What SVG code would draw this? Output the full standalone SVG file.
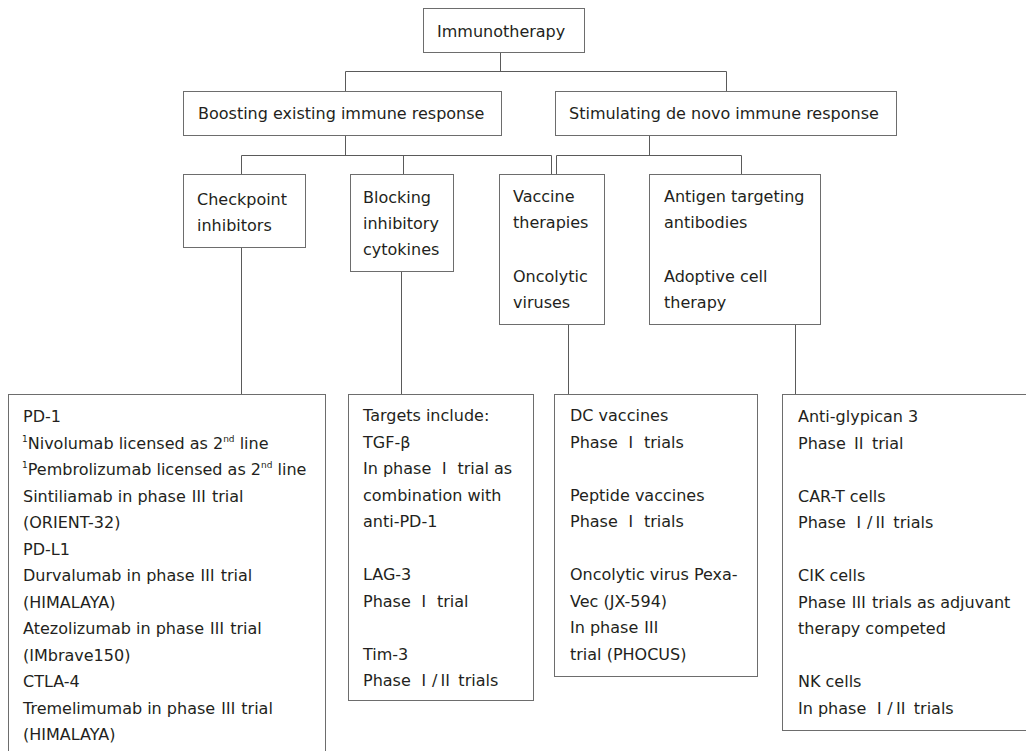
<svg xmlns="http://www.w3.org/2000/svg" width="1026" height="751" viewBox="0 0 1026 751">
<style>
  .box { fill: #ffffff; stroke: #6d6d6d; stroke-width: 1; }
  .con { fill: none; stroke: #5a5a5a; stroke-width: 1; }
  text { font-family: "DejaVu Sans", Verdana, sans-serif; font-size: 16px; fill: #231f20; }
  .r { font-family: "Noto Sans CJK JP", "DejaVu Sans", sans-serif; }
  .sup { font-size: 9px; }
</style>
<rect width="1026" height="751" fill="#ffffff"/>
<g id="connectors">
  <path class="con" d="M500.5 52.5 V71.5 M345.5 91.5 V71.5 H726.5 V91.5"/>
  <path class="con" d="M345.5 135.5 V155.5 M241.5 174.5 V155.5 H551.5 V174.5 M403.5 155.5 V174.5"/>
  <path class="con" d="M649.5 135.5 V155.5 M556.5 174.5 V155.5 H741.5 V174.5"/>
  <path class="con" d="M241.5 247.5 V394.5 M401.5 271.5 V394.5 M568.5 324.5 V394.5 M795.5 324.5 V394.5"/>
</g>
<g id="immunotherapy">
  <rect class="box" x="423.5" y="8.5" width="161" height="44"/>
  <text x="437" y="37">Immunotherapy</text>
</g>
<g id="boosting">
  <rect class="box" x="183.5" y="91.5" width="318" height="44"/>
  <text x="198" y="119">Boosting existing immune response</text>
</g>
<g id="stimulating">
  <rect class="box" x="555.5" y="91.5" width="341" height="44"/>
  <text x="569" y="119">Stimulating de novo immune response</text>
</g>
<g id="checkpoint">
  <rect class="box" x="183.5" y="174.5" width="122" height="73"/>
  <text x="197" y="205">Checkpoint</text>
  <text x="197" y="231">inhibitors</text>
</g>
<g id="blocking">
  <rect class="box" x="350.5" y="174.5" width="103" height="97"/>
  <text x="363" y="203">Blocking</text>
  <text x="363" y="229">inhibitory</text>
  <text x="363" y="255">cytokines</text>
</g>
<g id="vaccine">
  <rect class="box" x="499.5" y="174.5" width="105" height="150"/>
  <text x="513" y="202">Vaccine</text>
  <text x="513" y="228">therapies</text>
  <text x="513" y="282">Oncolytic</text>
  <text x="513" y="308">viruses</text>
</g>
<g id="antigen">
  <rect class="box" x="649.5" y="174.5" width="171" height="150"/>
  <text x="664" y="202">Antigen targeting</text>
  <text x="664" y="228">antibodies</text>
  <text x="664" y="282">Adoptive cell</text>
  <text x="664" y="308">therapy</text>
</g>
<g id="checkpoint-details">
  <rect class="box" x="8.5" y="394.5" width="317" height="380"/>
  <text x="23" y="422">PD-1</text>
  <text x="22" y="448.5"><tspan class="sup" dy="-7">1</tspan><tspan dy="7">Nivolumab licensed as 2</tspan><tspan class="sup" dy="-7">nd</tspan><tspan dy="7"> line</tspan></text>
  <text x="22" y="475"><tspan class="sup" dy="-7">1</tspan><tspan dy="7">Pembrolizumab licensed as 2</tspan><tspan class="sup" dy="-7">nd</tspan><tspan dy="7"> line</tspan></text>
  <text x="23" y="501.5">Sintiliamab in phase <tspan class="r">Ⅲ</tspan> trial</text>
  <text x="23" y="528">(ORIENT-32)</text>
  <text x="23" y="554.5">PD-L1</text>
  <text x="23" y="581">Durvalumab in phase <tspan class="r">Ⅲ</tspan> trial</text>
  <text x="23" y="607.5">(HIMALAYA)</text>
  <text x="23" y="634">Atezolizumab in phase <tspan class="r">Ⅲ</tspan> trial</text>
  <text x="23" y="660.5">(IMbrave150)</text>
  <text x="23" y="687">CTLA-4</text>
  <text x="23" y="713.5">Tremelimumab in phase <tspan class="r">Ⅲ</tspan> trial</text>
  <text x="23" y="740">(HIMALAYA)</text>
</g>
<g id="cytokine-details">
  <rect class="box" x="348.5" y="394.5" width="185" height="306"/>
  <text x="363" y="421">Targets include:</text>
  <text x="363" y="447.5">TGF-β</text>
  <text x="363" y="474">In phase <tspan class="r">Ⅰ</tspan> trial as</text>
  <text x="363" y="500.5">combination with</text>
  <text x="363" y="527">anti-PD-1</text>
  <text x="363" y="580">LAG-3</text>
  <text x="363" y="606.5">Phase <tspan class="r">Ⅰ</tspan> trial</text>
  <text x="363" y="659.5">Tim-3</text>
  <text x="363" y="686">Phase <tspan class="r">Ⅰ</tspan>/<tspan class="r">Ⅱ</tspan> trials</text>
</g>
<g id="vaccine-details">
  <rect class="box" x="554.5" y="394.5" width="203" height="282"/>
  <text x="570" y="421">DC vaccines</text>
  <text x="570" y="447.5">Phase <tspan class="r">Ⅰ</tspan> trials</text>
  <text x="570" y="500.5">Peptide vaccines</text>
  <text x="570" y="527">Phase <tspan class="r">Ⅰ</tspan> trials</text>
  <text x="570" y="580">Oncolytic virus Pexa-</text>
  <text x="570" y="606.5">Vec (JX-594)</text>
  <text x="570" y="633">In phase <tspan class="r">Ⅲ</tspan></text>
  <text x="570" y="659.5">trial (PHOCUS)</text>
</g>
<g id="antigen-details">
  <rect class="box" x="782.5" y="394.5" width="260" height="336"/>
  <text x="798" y="422">Anti-glypican 3</text>
  <text x="798" y="448.5">Phase <tspan class="r">Ⅱ</tspan> trial</text>
  <text x="798" y="501.5">CAR-T cells</text>
  <text x="798" y="528">Phase <tspan class="r">Ⅰ</tspan>/<tspan class="r">Ⅱ</tspan> trials</text>
  <text x="798" y="581">CIK cells</text>
  <text x="798" y="607.5">Phase <tspan class="r">Ⅲ</tspan> trials as adjuvant</text>
  <text x="798" y="634">therapy competed</text>
  <text x="798" y="687">NK cells</text>
  <text x="798" y="713.5">In phase <tspan class="r">Ⅰ</tspan>/<tspan class="r">Ⅱ</tspan> trials</text>
</g>
</svg>
